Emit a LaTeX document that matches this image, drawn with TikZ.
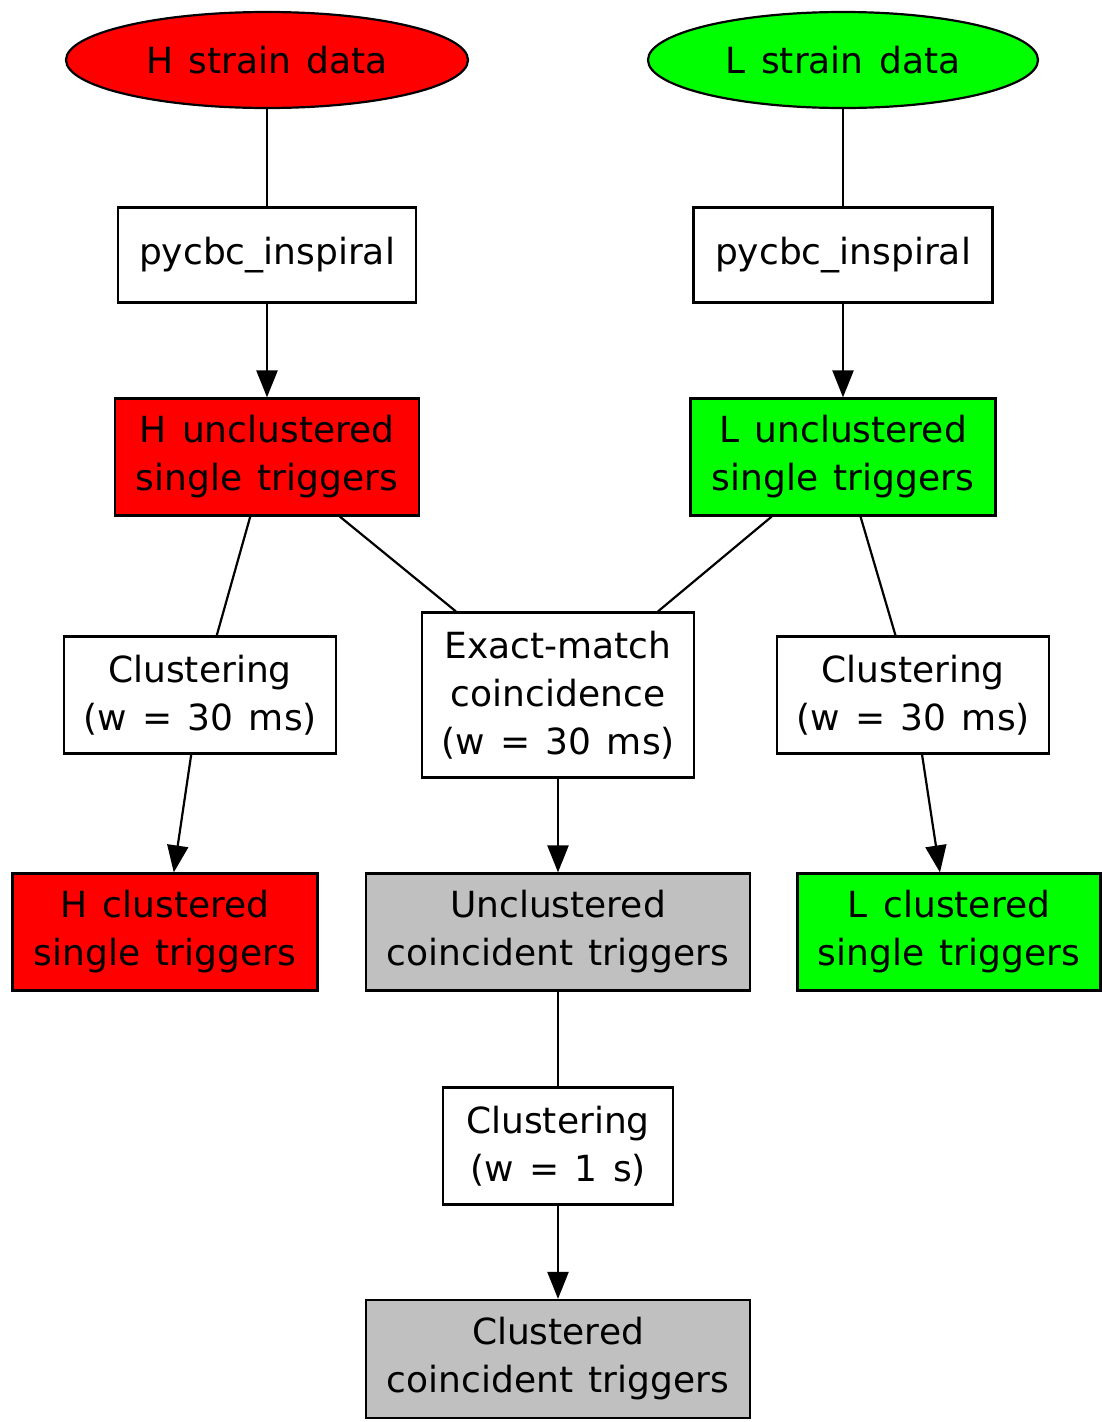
\documentclass[tikz,border=0pt]{standalone}
\usepackage{fontspec}
\setmainfont[WordSpace=1.35]{DejaVu Sans}
\usetikzlibrary{shapes.geometric,arrows.meta}
\definecolor{hred}{RGB}{255,0,0}
\definecolor{lgreen}{RGB}{0,255,0}
\definecolor{cgray}{RGB}{192,192,192}
\begin{document}
\begin{tikzpicture}[x=1pt,y=-1pt,
  every node/.style={font=\fontsize{36}{48}\selectfont, align=center, inner sep=0pt, line width=2.2pt},
  box/.style={draw, rectangle, fill=white},
  oval/.style={draw, ellipse},
  link/.style={line width=2.2pt},
  arr/.style={link, -{Triangle[length=27pt,width=21pt]}}]
\useasboundingbox (0,0) rectangle (1102,1422);
\node[oval, fill=hred, minimum width=402, minimum height=96] (hs) at (267,60) {H strain data};
\node[oval, fill=lgreen, minimum width=390, minimum height=96] (ls) at (843,60) {L strain data};
\node[box, minimum width=298, minimum height=95] (hp) at (267,255) {pycbc\_inspiral};
\node[box, minimum width=299, minimum height=95] (lp) at (843,255) {pycbc\_inspiral};
\node[box, fill=hred, minimum width=304, minimum height=117] (hu) at (267,457) {H unclustered\\single triggers};
\node[box, fill=lgreen, minimum width=305, minimum height=117] (lu) at (843,457) {L unclustered\\single triggers};
\node[box, minimum width=272, minimum height=117] (hc) at (200,695) {Clustering\\(w = 30 ms)};
\node[box, minimum width=272, minimum height=165] (ex) at (558,695) {Exact-match\\coincidence\\(w = 30 ms)};
\node[box, minimum width=272, minimum height=117] (lc) at (913,695) {Clustering\\(w = 30 ms)};
\node[box, fill=hred, minimum width=305, minimum height=117] (hcl) at (165,932) {H clustered\\single triggers};
\node[box, fill=cgray, minimum width=384, minimum height=117] (uc) at (558,932) {Unclustered\\coincident triggers};
\node[box, fill=lgreen, minimum width=303, minimum height=117] (lcl) at (949,932) {L clustered\\single triggers};
\node[box, minimum width=230, minimum height=117] (c1) at (558,1146) {Clustering\\(w = 1 s)};
\node[box, fill=cgray, minimum width=384, minimum height=118] (cc) at (558,1359) {Clustered\\coincident triggers};
\draw[link] (hs) -- (hp);
\draw[link] (ls) -- (lp);
\draw[arr] (hp) -- (hu);
\draw[arr] (lp) -- (lu);
\draw[link] (hu) -- (hc);
\draw[link] (hu) -- (ex);
\draw[link] (lu) -- (ex);
\draw[link] (lu) -- (lc);
\draw[arr] (hc) -- (hcl);
\draw[arr] (lc) -- (lcl);
\draw[arr] (ex) -- (uc);
\draw[link] (uc) -- (c1);
\draw[arr] (c1) -- (cc);
\end{tikzpicture}
\end{document}
